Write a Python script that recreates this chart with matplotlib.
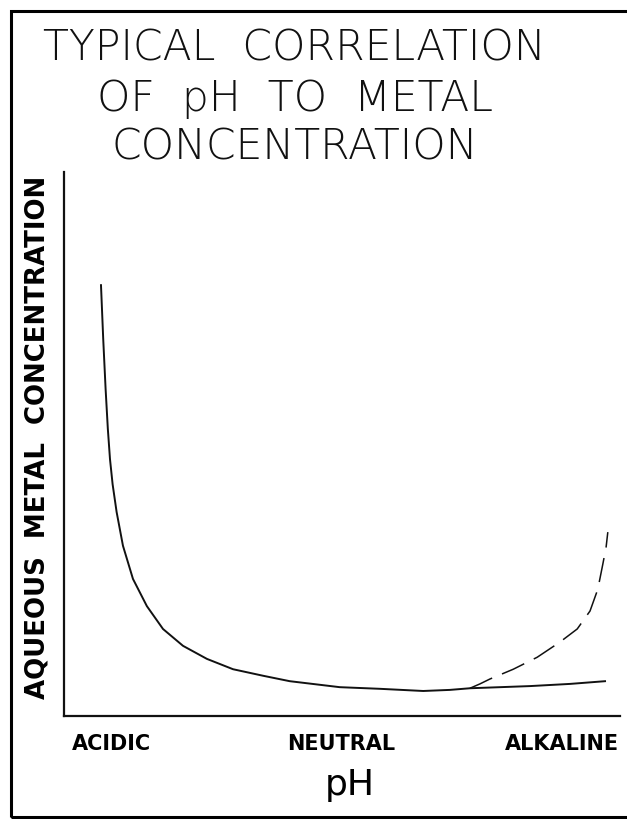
import matplotlib
matplotlib.use('Agg')
import matplotlib.pyplot as plt
from matplotlib.patches import Rectangle

# Curve (arbitrary 0-100 units on both axes)
solid_x = [6.65, 7.05, 7.48, 7.88, 8.27, 8.74, 9.46, 10.6, 12.4, 14.9, 17.8,
           21.4, 25.7, 30.4, 35.8, 40.6, 49.6, 56.8, 64.6, 69.4, 73.0, 78.4,
           83.8, 91.0, 97.3]
solid_y = [79.2, 69.3, 60.1, 52.8, 47.2, 42.6, 37.5, 31.3, 25.2, 20.2, 16.0,
           12.9, 10.5, 8.6, 7.4, 6.4, 5.3, 5.0, 4.6, 4.8, 5.1, 5.3, 5.5,
           5.9, 6.4]

dashed_x = [73.0, 74.8, 76.6, 80.8, 85.1, 89.2, 92.3, 94.6, 96.0, 96.9, 97.5, 97.8]
dashed_y = [5.1, 5.9, 6.8, 8.6, 10.8, 13.6, 16.0, 19.3, 23.3, 27.9, 31.1, 33.8]

tick_pos = [8.5, 49.8, 89.6]
tick_labels = ['ACIDIC', 'NEUTRAL', 'ALKALINE']

title_lines = ['TYPICAL  CORRELATION', 'OF  pH  TO  METAL', 'CONCENTRATION']

fig = plt.figure(figsize=(6.27, 8.2), dpi=100)
ax = fig.add_axes([0.1021, 0.1256, 0.8868, 0.6634])

ax.plot(solid_x, solid_y, color='#111111', linewidth=1.4)
ax.plot(dashed_x, dashed_y, color='#111111', linewidth=1.1, dashes=(16, 7))

ax.set_xlim(0, 100)
ax.set_ylim(0, 100)
for side in ['top', 'right']:
    ax.spines[side].set_visible(False)
for side in ['left', 'bottom']:
    ax.spines[side].set_linewidth(1.6)
    ax.spines[side].set_color('#111111')

ax.set_xticks(tick_pos)
ax.set_xticklabels(tick_labels, fontsize=15, fontweight='bold', va='baseline')
ax.set_yticks([])
ax.tick_params(axis='x', length=0, pad=24)

ax.set_ylabel('AQUEOUS  METAL  CONCENTRATION', fontsize=18.7,
              fontweight='bold', va='center')
ax.yaxis.set_label_coords(-0.047, 0.514)
ax.set_xlabel('pH', fontsize=26, va='baseline')
ax.xaxis.set_label_coords(0.514, -0.143)

# title, thin lettering
title_y = [0.941, 0.880, 0.821]
for line, y in zip(title_lines, title_y):
    fig.text(0.47, y, line, ha='center', va='center', fontsize=30.6,
             fontweight='ultralight', color='#111111')

# outer frame (right edge is cut off in the original scan)
fig.patches.append(Rectangle((11 / 627, 2 / 820), 1.1, 806 / 820,
                             transform=fig.transFigure, fill=False,
                             edgecolor='black', linewidth=2.2))

plt.savefig('out.png', dpi=100)
